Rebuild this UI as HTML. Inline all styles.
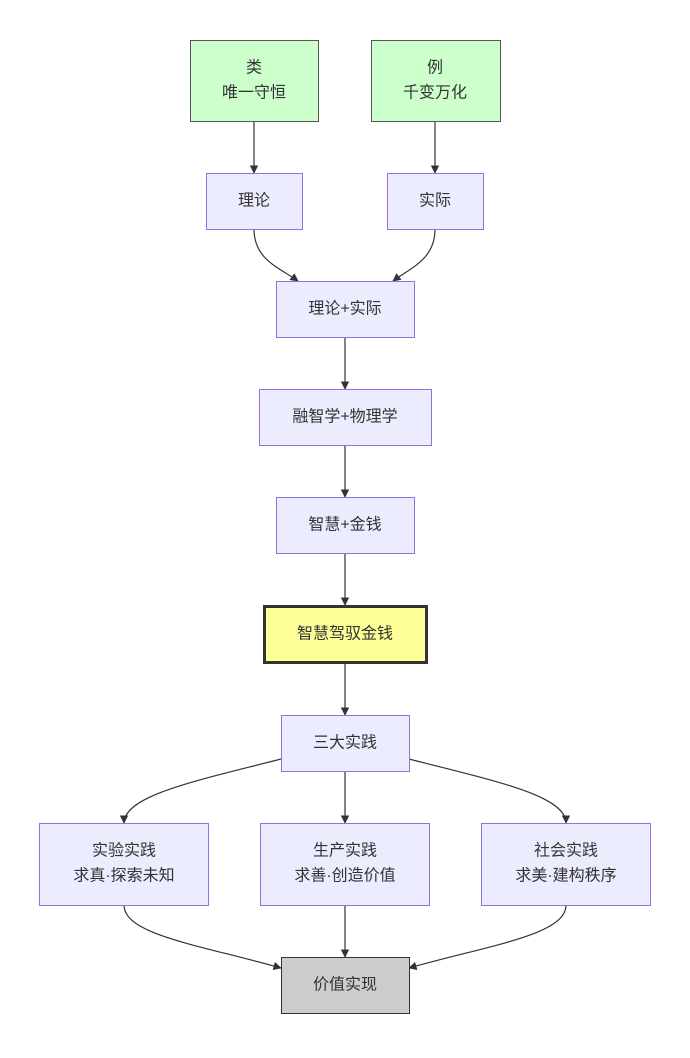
<!DOCTYPE html>
<html><head><meta charset="utf-8"><style>
body{margin:0;background:#fff;}
svg text{font-family:"Liberation Sans","Noto Sans CJK SC",sans-serif;font-size:16px;fill:#333;text-anchor:middle;dominant-baseline:central;}
</style></head><body>
<svg width="690" height="1053" viewBox="0 0 690 1053" xmlns="http://www.w3.org/2000/svg">
<defs><marker id="a" viewBox="0 0 10 10" refX="9" refY="5" markerWidth="7" markerHeight="7" orient="auto"><path d="M0,0L10,5L0,10z" fill="#333"/></marker></defs>
<g fill="none" stroke="#333" stroke-width="1.2" marker-end="url(#a)">
<path d="M254,121V173"/>
<path d="M435,121V173"/>
<path d="M254,229C254,260 280,268 298,281"/>
<path d="M435,229C435,260 410,268 393,281"/>
<path d="M345,337V389"/>
<path d="M345,445V497"/>
<path d="M345,553V605"/>
<path d="M345,663V715"/>
<path d="M281,759C200,780 124,795 124,823"/>
<path d="M345,771V823"/>
<path d="M409,759C490,780 566,795 566,823"/>
<path d="M124,905C124,935 200,945 281,968"/>
<path d="M345,905V957"/>
<path d="M566,905C566,935 490,945 409,968"/>
</g>
<g stroke-width="1">
<rect x="190.5" y="40.5" width="128" height="81" fill="#ccffcc" stroke="#555"/>
<rect x="371.5" y="40.5" width="129" height="81" fill="#ccffcc" stroke="#555"/>
<rect x="206.5" y="173.5" width="96" height="56" fill="#ececff" stroke="#9370db"/>
<rect x="387.5" y="173.5" width="96" height="56" fill="#ececff" stroke="#9370db"/>
<rect x="276.5" y="281.5" width="138" height="56" fill="#ececff" stroke="#9370db"/>
<rect x="259.5" y="389.5" width="172" height="56" fill="#ececff" stroke="#9370db"/>
<rect x="276.5" y="497.5" width="138" height="56" fill="#ececff" stroke="#9370db"/>
<rect x="264.5" y="606.5" width="162" height="56" fill="#ffff99" stroke="#333" stroke-width="3"/>
<rect x="281.5" y="715.5" width="128" height="56" fill="#ececff" stroke="#9370db"/>
<rect x="39.5" y="823.5" width="169" height="82" fill="#ececff" stroke="#9370db"/>
<rect x="260.5" y="823.5" width="169" height="82" fill="#ececff" stroke="#9370db"/>
<rect x="481.5" y="823.5" width="169" height="82" fill="#ececff" stroke="#9370db"/>
<rect x="281.5" y="957.5" width="128" height="56" fill="#cccccc" stroke="#333"/>
</g>
<text x="254" y="68">类</text><text x="254" y="93">唯一守恒</text>
<text x="435" y="68">例</text><text x="435" y="93">千变万化</text>
<text x="254" y="201">理论</text>
<text x="435" y="201">实际</text>
<text x="345" y="309">理论+实际</text>
<text x="345" y="417">融智学+物理学</text>
<text x="345" y="525">智慧+金钱</text>
<text x="345" y="634">智慧驾驭金钱</text>
<text x="345" y="743">三大实践</text>
<text x="124" y="851">实验实践</text><text x="124" y="876">求真·探索未知</text>
<text x="345" y="851">生产实践</text><text x="345" y="876">求善·创造价值</text>
<text x="566" y="851">社会实践</text><text x="566" y="876">求美·建构秩序</text>
<text x="345" y="985">价值实现</text>
</svg>
</body></html>
